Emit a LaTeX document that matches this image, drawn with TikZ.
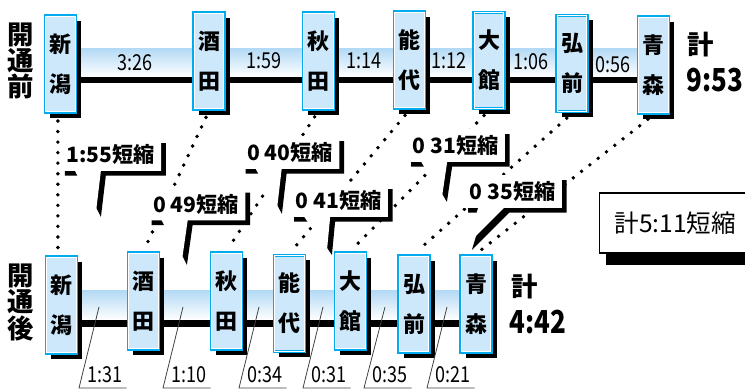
\documentclass[tikz,border=0pt]{standalone}
\usepackage{fontspec}
\setmainfont{Noto Sans CJK JP}
\newfontfamily\narrow[FakeStretch=0.82]{Noto Sans CJK JP}
\usepackage{tikz}
\usetikzlibrary{shadows}
\definecolor{rim}{RGB}{0,172,238}
\definecolor{pane}{RGB}{204,232,250}
\definecolor{tube}{RGB}{178,217,245}
\pgfdeclarelayer{back}
\pgfdeclarelayer{mid}
\pgfsetlayers{back,mid,main}

% callout with black shadow: #1 text node, #2 tip
\newcommand{\bubble}[2]{%
  \fill [black, transform canvas={xshift=2.8pt, yshift=-2.8pt}] (#1.north west) -- (#1.north east) -- (#1.south east)
    -- ([xshift=23.3pt]#1.south west) -- (#2) -- ([xshift=8.5pt]#1.south west) -- (#1.south west) -- cycle;
  \fill [white] (#1.north west) -- (#1.north east) -- (#1.south east)
    -- ([xshift=23.3pt]#1.south west) -- (#2) -- ([xshift=8.5pt]#1.south west) -- (#1.south west) -- cycle;}

\begin{document}
\begin{tikzpicture}[x=0.02cm, y=-0.02cm,
  stn/.style={draw=rim, line width=1.7pt, fill=pane, minimum width=0.62cm, minimum height=1.94cm,
    inner sep=0pt, align=center, font=\fontsize{12.5}{22.7}\selectfont\bfseries,
    general shadow={fill=black, shadow xshift=3.1pt, shadow yshift=-3.1pt}},
  side/.style={align=center, inner sep=0pt, font=\fontsize{15}{15}\selectfont\bfseries},
  tt/.style={inner sep=1pt, font=\narrow\fontsize{12.5}{14}\selectfont},
  dur/.style={inner xsep=2pt, inner ysep=0.1cm, text width=0.8cm, align=right, font=\narrow\fontsize{12.5}{14}\selectfont},
  cut/.style={inner xsep=3.5pt, minimum height=0.56cm, font=\fontsize{12}{14}\selectfont\bfseries},
  big/.style={inner sep=0pt, font=\narrow\fontsize{18}{20}\selectfont\bfseries},
  dots/.style={line width=2.2pt, line cap=round, dash pattern=on 0pt off 6pt, shorten <=4pt, shorten >=4pt},
  leader/.style={draw=black!75, line width=0.45pt}]
\useasboundingbox (0,0) rectangle (745,392);

% before
\node [side] (pre) at (20.5,61) {開\\通\\前};
\node [stn] (a1) at (60.5,64) {新\\潟};
\node [stn] (a2) at (209,61) {酒\\田};
\node [stn] (a3) at (318.5,61) {秋\\田};
\node [stn] (a4) at (409.5,60) {能\\代};
\node [stn] (a5) at (489,60.5) {大\\館};
\node [stn] (a6) at (572,63.5) {弘\\前};
\node [stn] (a7) at (653.5,65) {青\\森};
\node [side] (sumA) at (700.5,44.5) {計};
\node [big, anchor=west] (timeA) at (686,80) {9:53};

% after
\node [side] (post) at (20.5,302.5) {開\\通\\後};
\node [stn] (b1) at (61.5,305) {新\\潟};
\node [stn] (b2) at (143.5,301) {酒\\田};
\node [stn] (b3) at (226.5,301) {秋\\田};
\node [stn] (b4) at (289.5,303.5) {能\\代};
\node [stn] (b5) at (350.5,301) {大\\館};
\node [stn] (b6) at (414,304) {弘\\前};
\node [stn] (b7) at (476,304) {青\\森};
\node [side] (sumB) at (524.5,287) {計};
\node [big, anchor=west] (timeB) at (509,322.5) {4:42};

\foreach \s in {a1,a2,a3,a4,a5,a6,a7,b1,b2,b3,b4,b5,b6,b7}
  \draw [white, line width=0.6pt] ([shift={(1.2pt,1.2pt)}]\s.south west) rectangle ([shift={(-1.2pt,-1.2pt)}]\s.north east);

\begin{pgfonlayer}{back}
\shade [top color=tube, bottom color=white] (a1.center |- 0,48) rectangle (a7.center |- 0,77);
\fill (a1.center |- 0,77) rectangle (a7.center |- 0,83);
\shade [top color=tube, bottom color=white] (b1.center |- 0,290) rectangle (b7.center |- 0,320);
\fill (b1.center |- 0,320) rectangle (b7.center |- 0,327);
\draw [dots] ([xshift=-1.5pt]a1.south) -- ([xshift=-1.5pt]a1.south |- b1.north);
\draw [dots] (a2.south) -- (b2.north);
\draw [dots] (a3.south) -- (b3.north);
\draw [dots] (a4.south) -- (b4.north);
\draw [dots] (a5.south) -- (b5.north);
\draw [dots] (a6.south) -- (b6.north);
\draw [dots] (a7.south) -- (b7.north);
\end{pgfonlayer}

% times before
\path (a1) -- node [tt] {3:26} (a2);
\path (a2) -- node [tt] {1:59} (a3);
\path (a3) -- node [tt] {1:14} (a4);
\path (a4) -- node [tt] {1:12} (a5);
\path (a5) -- node [tt] {1:06} (a6);
\path (a6) -- node [tt] {0:56} (a7);

% times after
\coordinate (p1) at (99,307);
\coordinate (p2) at (183,307);
\coordinate (p3) at (259,307);
\coordinate (p4) at (323,307);
\coordinate (p5) at (385,307);
\coordinate (p6) at (447,307);
\node [dur, anchor=south west] (d1) at (79,388) {1:31};
\node [dur, anchor=south west] (d2) at (163,388) {1:10};
\node [dur, anchor=south west] (d3) at (239,388) {0:34};
\node [dur, anchor=south west] (d4) at (303,388) {0:31};
\node [dur, anchor=south west] (d5) at (364,388) {0:35};
\node [dur, anchor=south west] (d6) at (427,388) {0:21};
\draw [leader] (p1) -- (d1.south west) -- (d1.south east);
\draw [leader] (p2) -- (d2.south west) -- (d2.south east);
\draw [leader] (p3) -- (d3.south west) -- (d3.south east);
\draw [leader] (p4) -- (d4.south west) -- (d4.south east);
\draw [leader] (p5) -- (d5.south west) -- (d5.south east);
\draw [leader] (p6) -- (d6.south west) -- (d6.south east);

% savings
\node [cut] (c1) at (110.5,154.5) {1:55短縮};
\node [cut] (c2) at (290,152.5) {0 40短縮};
\node [cut] (c3) at (196,204) {0 49短縮};
\node [cut] (c4) at (338.5,200.5) {0 41短縮};
\node [cut] (c5) at (455.5,145.5) {0 31短縮};
\node [cut] (c6) at (512.5,191.5) {0 35短縮};
\coordinate (t1) at (96,212);
\coordinate (t2) at (277,209);
\coordinate (t3) at (182,260);
\coordinate (t4) at (327,250);
\coordinate (t5) at (442,197);
\coordinate (t6) at (467,245);
\begin{pgfonlayer}{mid}
\bubble{c1}{t1}
\bubble{c2}{t2}
\bubble{c3}{t3}
\bubble{c4}{t4}
\bubble{c5}{t5}
\bubble{c6}{t6}
\end{pgfonlayer}

\node [draw, fill=white, line width=0.6pt, anchor=west, text width=2.9cm, align=left, inner xsep=0.3cm,
  minimum height=1.2cm, font=\fontsize{14}{16}\selectfont,
  general shadow={fill=black, shadow xshift=3.4pt, shadow yshift=-6.8pt}]
  (total) at (599,223) {計5:11短縮};
\end{tikzpicture}
\end{document}
